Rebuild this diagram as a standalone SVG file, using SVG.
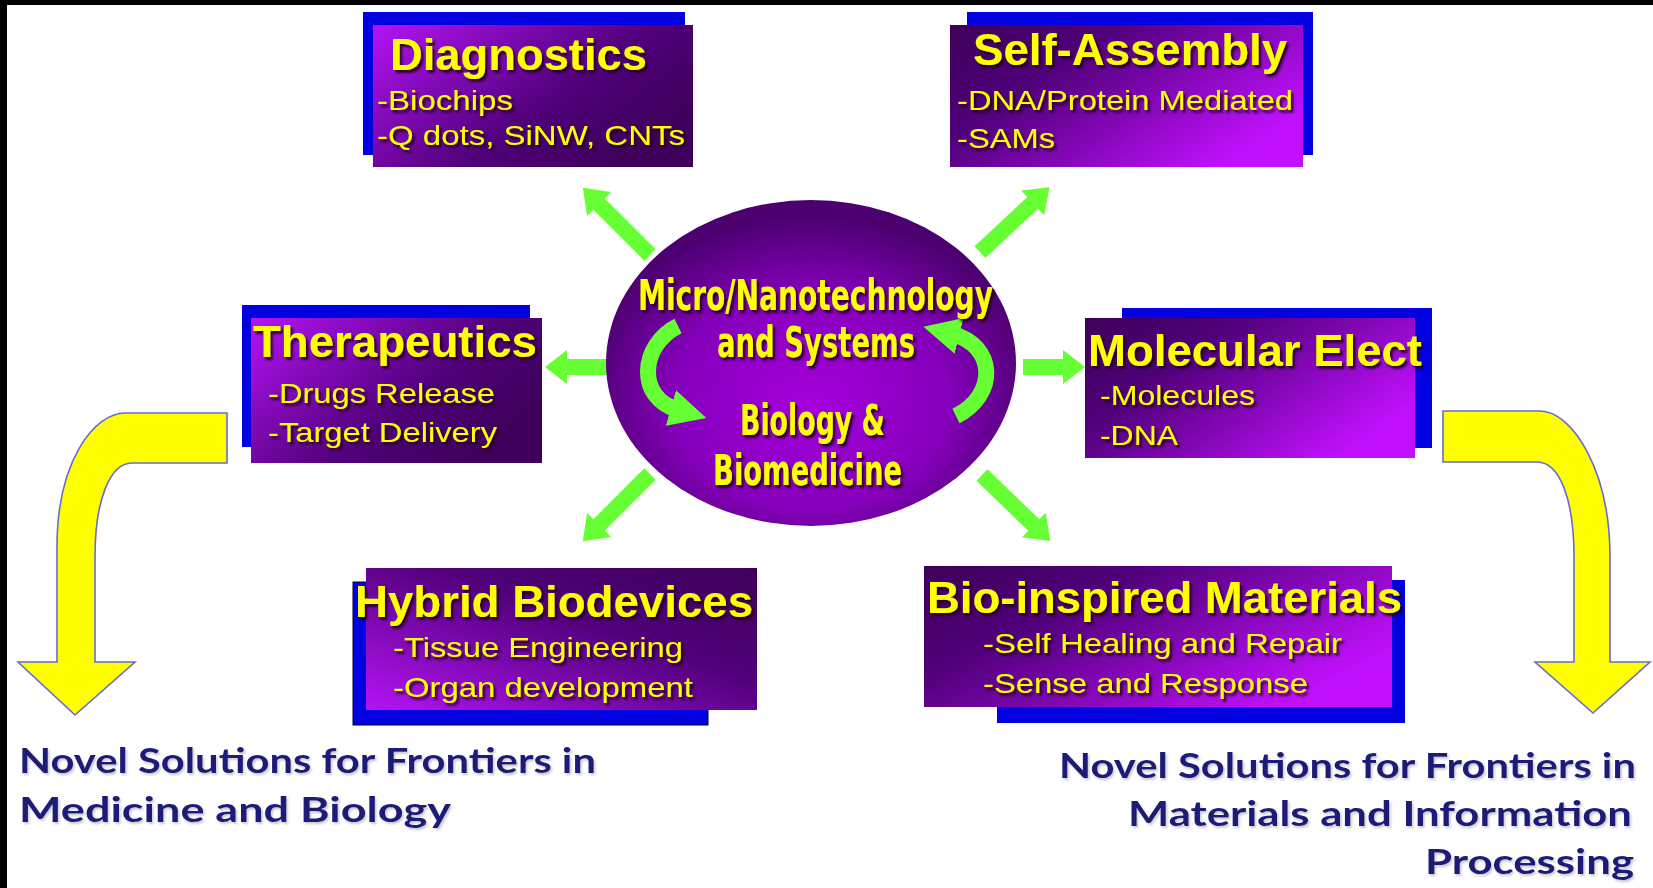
<svg xmlns="http://www.w3.org/2000/svg" width="1653" height="888" viewBox="0 0 1653 888">
<style>
.back{fill:#0000e0}
.title{font-family:"Liberation Sans",Arial,sans-serif;font-weight:bold;font-size:44px;fill:#ffff00}
.sub{font-family:"Liberation Sans",Arial,sans-serif;font-size:28px;fill:#ffff00}
.ctext{font-family:"DejaVu Sans",sans-serif;font-weight:bold;font-size:42px;fill:#ffff00}
.btext{font-family:"Lato","DejaVu Sans",sans-serif;font-weight:bold;font-size:35px;fill:#1a1a78}
.garrow{fill:#66ff33}
.yarrow{fill:#ffff00;stroke:#6a6ad0;stroke-width:1.6;stroke-linejoin:miter}
.swirl{fill:none;stroke:#66ff33;stroke-width:16}
</style>
<defs>
<linearGradient id="gMagLeft" x1="0" y1="0" x2="1" y2="0.6">
<stop offset="0" stop-color="#b414f4"/><stop offset="0.65" stop-color="#50007a"/><stop offset="1" stop-color="#3e005a"/>
</linearGradient>
<linearGradient id="gMagRight" x1="0" y1="0" x2="1" y2="0.6">
<stop offset="0" stop-color="#3e005a"/><stop offset="0.35" stop-color="#50007a"/><stop offset="1" stop-color="#c010fc"/>
</linearGradient>
<linearGradient id="gHybrid" x1="0" y1="1" x2="1" y2="0">
<stop offset="0" stop-color="#b414f4"/><stop offset="0.6" stop-color="#50007a"/><stop offset="1" stop-color="#3e005a"/>
</linearGradient>
<radialGradient id="gEll" cx="0.5" cy="0.6" r="0.55" fx="0.5" fy="0.64">
<stop offset="0" stop-color="#a600dc"/><stop offset="0.6" stop-color="#8600bc"/><stop offset="1" stop-color="#4c0070"/>
</radialGradient>
<filter id="sh" x="-5%" y="-20%" width="115%" height="150%">
<feDropShadow dx="2.5" dy="3" stdDeviation="1" flood-color="#1a0020" flood-opacity="0.85"/>
</filter>
<filter id="shb" x="-5%" y="-20%" width="115%" height="150%">
<feDropShadow dx="1.5" dy="2" stdDeviation="1.2" flood-color="#9090a0" flood-opacity="0.5"/>
</filter>
<path id="gLong" d="M0,-8 H72 V-17 L95,0 L72,17 V8 H0 Z"/>
<path id="gShort" d="M0,-8 H40 V-17 L62,0 L40,17 V8 H0 Z"/>
<marker id="swHead" viewBox="0 0 10 10" refX="2" refY="5" markerWidth="2.3" markerHeight="2.5" orient="auto" markerUnits="strokeWidth">
<path d="M0,0 L10,5 L0,10 Z" fill="#66ff33"/>
</marker>
</defs>

<rect x="0" y="0" width="1653" height="888" fill="#ffffff"/>
<rect x="0" y="0" width="1653" height="5" fill="#000000"/>
<rect x="0" y="0" width="7" height="888" fill="#000000"/>

<g id="connectors">
<use href="#gLong" class="garrow" transform="translate(650,255) rotate(-135)"/>
<use href="#gLong" class="garrow" transform="translate(980,252) rotate(-43)"/>
<use href="#gShort" class="garrow" transform="translate(607,367) rotate(180)"/>
<use href="#gShort" class="garrow" transform="translate(1023,367)"/>
<use href="#gLong" class="garrow" transform="translate(650,474) rotate(135)"/>
<use href="#gLong" class="garrow" transform="translate(982,475) rotate(44)"/>
<path class="yarrow" d="M227,413 L125,413 C95,413 57,460 57,547 L57,662 L18,662 L75,715 L135,662 L95,662 L95,557 C95,500 110,463 132,463 L227,463 Z"/>
<path class="yarrow" d="M1443,411 L1540,411 C1572,411 1610,470 1610,557 L1610,662 L1650,662 L1593,713 L1535,662 L1574,662 L1574,557 C1574,500 1560,462 1537,462 L1443,462 Z"/>
</g>

<g id="center">
<ellipse cx="811" cy="363" rx="205" ry="163" fill="url(#gEll)"/>
<path class="swirl" d="M678,326 C640,345 636,398 678,410" marker-end="url(#swHead)"/>
<path class="swirl" d="M956,416 C998,395 996,345 952,334" marker-end="url(#swHead)"/>
<g filter="url(#sh)">
<text class="ctext" x="638" y="310" textLength="355" lengthAdjust="spacingAndGlyphs">Micro/Nanotechnology</text>
<text class="ctext" x="717" y="357" textLength="198" lengthAdjust="spacingAndGlyphs">and Systems</text>
<text class="ctext" x="740" y="435" textLength="145" lengthAdjust="spacingAndGlyphs">Biology &amp;</text>
<text class="ctext" x="713" y="485" textLength="189" lengthAdjust="spacingAndGlyphs">Biomedicine</text>
</g>
</g>

<g id="diagnostics">
<rect class="back" x="363" y="12" width="322" height="143"/>
<rect x="373" y="25" width="320" height="142" fill="url(#gMagLeft)"/>
<g filter="url(#sh)">
<text class="title" x="390" y="70" textLength="257" lengthAdjust="spacingAndGlyphs">Diagnostics</text>
<text class="sub" x="377" y="110" textLength="136" lengthAdjust="spacingAndGlyphs">-Biochips</text>
<text class="sub" x="377" y="145" textLength="308" lengthAdjust="spacingAndGlyphs">-Q dots, SiNW, CNTs</text>
</g>
</g>

<g id="self-assembly">
<rect class="back" x="967" y="12" width="346" height="143"/>
<rect x="950" y="25" width="353" height="142" fill="url(#gMagRight)"/>
<g filter="url(#sh)">
<text class="title" x="973" y="65" textLength="314" lengthAdjust="spacingAndGlyphs">Self-Assembly</text>
<text class="sub" x="957" y="110" textLength="336" lengthAdjust="spacingAndGlyphs">-DNA/Protein Mediated</text>
<text class="sub" x="957" y="148" textLength="98" lengthAdjust="spacingAndGlyphs">-SAMs</text>
</g>
</g>

<g id="therapeutics">
<rect class="back" x="242" y="305" width="288" height="142"/>
<rect x="251" y="318" width="291" height="145" fill="url(#gMagLeft)"/>
<g filter="url(#sh)">
<text class="title" x="253" y="357" textLength="284" lengthAdjust="spacingAndGlyphs">Therapeutics</text>
<text class="sub" x="268" y="403" textLength="227" lengthAdjust="spacingAndGlyphs">-Drugs Release</text>
<text class="sub" x="268" y="442" textLength="229" lengthAdjust="spacingAndGlyphs">-Target Delivery</text>
</g>
</g>

<g id="molecular-elect">
<rect class="back" x="1122" y="308" width="310" height="140"/>
<rect x="1085" y="318" width="330" height="140" fill="url(#gMagRight)"/>
<g filter="url(#sh)">
<text class="title" x="1088" y="366" textLength="334" lengthAdjust="spacingAndGlyphs">Molecular Elect</text>
<text class="sub" x="1100" y="405" textLength="155" lengthAdjust="spacingAndGlyphs">-Molecules</text>
<text class="sub" x="1100" y="445" textLength="78" lengthAdjust="spacingAndGlyphs">-DNA</text>
</g>
</g>

<g id="hybrid-biodevices">
<rect class="back" x="353" y="582" width="355" height="143" stroke="#000030" stroke-width="1"/>
<rect x="366" y="568" width="391" height="142" fill="url(#gHybrid)"/>
<g filter="url(#sh)">
<text class="title" x="355" y="617" textLength="398" lengthAdjust="spacingAndGlyphs">Hybrid Biodevices</text>
<text class="sub" x="393" y="657" textLength="290" lengthAdjust="spacingAndGlyphs">-Tissue Engineering</text>
<text class="sub" x="393" y="697" textLength="300" lengthAdjust="spacingAndGlyphs">-Organ development</text>
</g>
</g>

<g id="bio-inspired-materials">
<rect class="back" x="997" y="580" width="408" height="143"/>
<rect x="924" y="566" width="468" height="141" fill="url(#gMagRight)"/>
<g filter="url(#sh)">
<text class="title" x="927" y="613" textLength="475" lengthAdjust="spacingAndGlyphs">Bio-inspired Materials</text>
<text class="sub" x="983" y="653" textLength="359" lengthAdjust="spacingAndGlyphs">-Self Healing and Repair</text>
<text class="sub" x="983" y="693" textLength="325" lengthAdjust="spacingAndGlyphs">-Sense and Response</text>
</g>
</g>

<g id="outcome-medicine" filter="url(#shb)">
<text class="btext" x="19" y="773" textLength="577" lengthAdjust="spacingAndGlyphs">Novel Solutions for Frontiers in</text>
<text class="btext" x="19" y="822" textLength="432" lengthAdjust="spacingAndGlyphs">Medicine and Biology</text>
</g>

<g id="outcome-materials" filter="url(#shb)">
<text class="btext" x="1059" y="778" textLength="577" lengthAdjust="spacingAndGlyphs">Novel Solutions for Frontiers in</text>
<text class="btext" x="1128" y="826" textLength="504" lengthAdjust="spacingAndGlyphs">Materials and Information</text>
<text class="btext" x="1425" y="874" textLength="209" lengthAdjust="spacingAndGlyphs">Processing</text>
</g>
</svg>
